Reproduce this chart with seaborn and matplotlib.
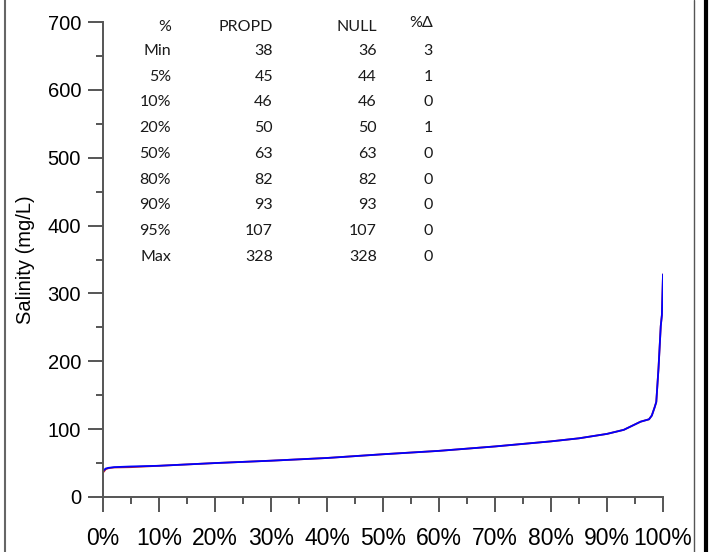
import numpy as np
import pandas as pd
import matplotlib
matplotlib.use("Agg")
import matplotlib.pyplot as plt
from matplotlib.lines import Line2D
from matplotlib.ticker import MultipleLocator, FuncFormatter
import seaborn as sns

# Exceedance curve of salinity (sorted values vs. percent of record)
pct = [0, 0.2, 0.5, 1, 2, 5, 10, 20, 30, 40, 50, 60, 70, 80, 85, 90, 93,
       95, 96, 97.5, 98, 98.5, 98.8, 99.2, 99.6, 99.8, 100]
propd = [38, 40, 42, 43, 44, 45, 46, 50, 53.5, 57.5, 63, 68, 74.5, 82, 86.5,
         93, 99, 107, 111, 114.5, 120, 132, 140, 190, 252, 268, 328]
null = [36, 38, 41, 42.5, 43.5, 44, 46, 50, 53.5, 57.5, 63, 68, 74.5, 82, 86.5,
        93, 99, 107, 111, 114.5, 120, 132, 140, 190, 252, 268, 328]

# Summary statistics table
stat_labels = ["Min", "5%", "10%", "20%", "50%", "80%", "90%", "95%", "Max"]
propd_stats = [38, 45, 46, 50, 63, 82, 93, 107, 328]
null_stats = [36, 44, 46, 50, 63, 82, 93, 107, 328]
pct_change = [3, 1, 0, 1, 0, 0, 0, 0, 0]

df = pd.concat([
    pd.DataFrame({"pct": pct, "salinity": null, "run": "NULL"}),
    pd.DataFrame({"pct": pct, "salinity": propd, "run": "PROPD"}),
])

sns.set_theme(style="white")
plt.rcParams["font.family"] = ["Liberation Sans", "DejaVu Sans"]

W, H = 709, 552
PT = 72 / 100  # points per pixel at 100 dpi
fig = plt.figure(figsize=(W / 100, H / 100), dpi=100)
ax = fig.add_axes([103 / W, 1 - 497 / H, 560 / W, 475 / H])

sns.lineplot(data=df, x="pct", y="salinity", hue="run",
             hue_order=["NULL", "PROPD"],
             palette={"NULL": "#c02020", "PROPD": "#0000ff"},
             linewidth=1.3, legend=False, ax=ax, estimator=None, sort=False)

ax.set_xlim(0, 100)
ax.set_ylim(0, 700)
ax.set_xlabel("")
ax.set_ylabel("Salinity (mg/L)", fontsize=14.5, color="black")
ax.yaxis.set_label_coords(-(103 - 35) / 560, 0.5)

for side in ["top", "right"]:
    ax.spines[side].set_visible(False)
for side in ["left", "bottom"]:
    ax.spines[side].set_color("#555555")
    ax.spines[side].set_linewidth(1.4)

ax.xaxis.set_major_locator(MultipleLocator(10))
ax.xaxis.set_minor_locator(MultipleLocator(5))
ax.yaxis.set_major_locator(MultipleLocator(100))
ax.yaxis.set_minor_locator(MultipleLocator(50))
ax.xaxis.set_major_formatter(FuncFormatter(lambda v, p: f"{v:.0f}%"))
ax.tick_params(which="major", direction="out", length=15 * PT, width=1.4,
               color="#555555", bottom=True, left=True)
ax.tick_params(which="minor", direction="out", length=7 * PT, width=1.4,
               color="#555555", bottom=True, left=True)
ax.tick_params(axis="x", which="major", labelsize=16.5, pad=11, labelcolor="black")
ax.tick_params(axis="y", which="major", labelsize=14.5, pad=5, labelcolor="black")
ax.set_facecolor("white")


# Table of statistics, placed in pixel positions converted to data units
def px_to_data(px, py):
    return (px - 103) / 5.6, (497 - py) / (475 / 700)


tfont = dict(family=["Lato", "DejaVu Sans"], fontsize=11.5, color="#1a1a1a")
cols_x = [171, 273, 377, 433]
hdr_y = 27
ax.text(*px_to_data(cols_x[0], hdr_y), "%", ha="right", va="center", **tfont)
ax.text(*px_to_data(cols_x[1], hdr_y), "PROPD", ha="right", va="center", **tfont)
ax.text(*px_to_data(cols_x[2], hdr_y), "NULL", ha="right", va="center", **tfont)
ax.text(*px_to_data(cols_x[3], hdr_y - 4), "%Δ", ha="right", va="center", **tfont)
for i, lab in enumerate(stat_labels):
    y = 51 + 25.7 * i
    ax.text(*px_to_data(cols_x[0], y), lab, ha="right", va="center", **tfont)
    ax.text(*px_to_data(cols_x[1], y), f"{propd_stats[i]}", ha="right", va="center", **tfont)
    ax.text(*px_to_data(cols_x[2], y), f"{null_stats[i]}", ha="right", va="center", **tfont)
    ax.text(*px_to_data(cols_x[3], y), f"{pct_change[i]}", ha="right", va="center", **tfont)

# Panel frame lines
fig.add_artist(Line2D([4.5 / W, 4.5 / W], [0, 1], color="#666666", lw=1.5))
fig.add_artist(Line2D([693.5 / W, 693.5 / W], [0, 1], color="#555555", lw=1.0))
fig.add_artist(Line2D([705.5 / W, 705.5 / W], [0, 1], color="black", lw=3.0))

fig.savefig("out.png", dpi=100, facecolor="white")
